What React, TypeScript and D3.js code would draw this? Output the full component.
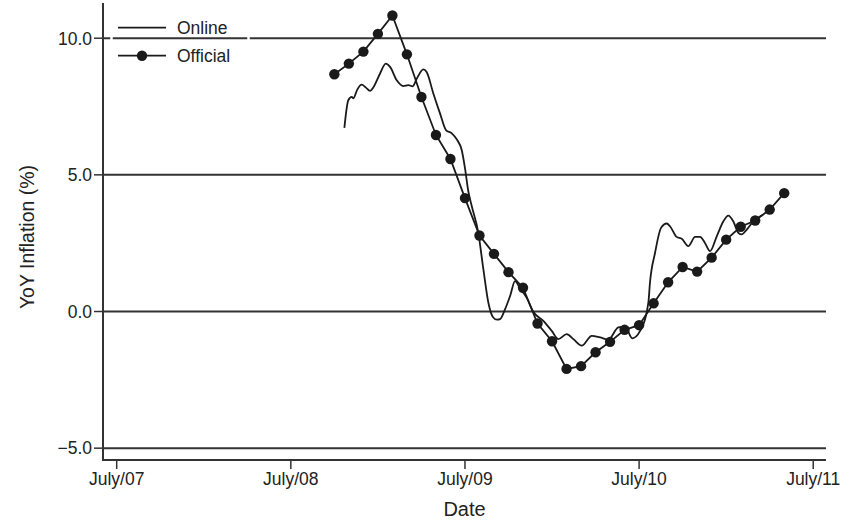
import React from "react";
import * as d3 from "d3";

// Months are counted from July 2007 (0 = July/07)
const tickMonths = [0, 12, 24, 36, 48];
const tickLabels = ["July/07", "July/08", "July/09", "July/10", "July/11"];
const yTicks = [-5, 0, 5, 10];
const yTickLabels = ["\u22125.0", "0.0", "5.0", "10.0"];

const officialMonths = [15, 16, 17, 18, 19, 20, 21, 22, 23, 24, 25, 26, 27, 28, 29, 30, 31, 32, 33, 34, 35, 36, 37, 38, 39, 40, 41, 42, 43, 44, 45, 46];
const officialValues = [8.68, 9.07, 9.51, 10.16, 10.83, 9.41, 7.85, 6.46, 5.58, 4.15, 2.78, 2.11, 1.44, 0.87, -0.44, -1.09, -2.1, -2.0, -1.49, -1.11, -0.67, -0.5, 0.3, 1.07, 1.63, 1.46, 1.97, 2.63, 3.1, 3.33, 3.73, 4.33];

const onlineMonths = [15.69, 15.96, 16.2, 16.31, 16.58, 16.88, 17.16, 17.46, 17.68, 18.15, 18.54, 18.84, 19.3, 19.75, 20.1, 20.4, 20.68, 21.13, 21.36, 21.82, 22.28, 22.69, 23.09, 23.43, 23.78, 24.0, 24.23, 24.47, 24.92, 25.27, 25.61, 25.95, 26.21, 26.42, 26.76, 27.11, 27.45, 27.79, 28.26, 28.71, 29.4, 29.98, 30.43, 31.01, 31.47, 32.05, 32.74, 33.31, 33.88, 34.57, 35.03, 35.53, 36.07, 36.64, 36.75, 37.1, 37.51, 37.9, 38.13, 38.59, 38.94, 39.39, 39.86, 40.2, 40.54, 40.89, 41.35, 41.81, 42.15, 42.49, 42.84, 43.07, 43.42, 43.87, 44.33, 44.54];
const onlineValues = [6.72, 7.73, 7.85, 7.8, 8.12, 8.3, 8.2, 8.07, 8.2, 8.71, 9.07, 8.95, 8.46, 8.25, 8.28, 8.24, 8.52, 8.86, 8.76, 7.98, 7.25, 6.64, 6.52, 6.3, 5.9, 5.25, 4.4, 3.85, 2.88, 1.54, 0.33, -0.22, -0.3, -0.28, 0.08, 0.57, 1.11, 0.85, 0.5, -0.01, -0.34, -0.71, -1.01, -0.83, -1.01, -1.25, -0.89, -0.95, -1.03, -0.58, -0.55, -0.98, -0.71, 0.33, 1.06, 2.15, 3.06, 3.22, 3.12, 2.73, 2.66, 2.39, 2.73, 2.73, 2.51, 2.21, 2.75, 3.3, 3.51, 3.3, 2.88, 2.82, 3.0, 3.3, 3.48, 3.54];

const W = 852;
const H = 523;
const left = 103, right = 826, top = 3, bottom = 460;

export default function App() {
  const x = d3.scaleLinear().domain([-0.944, 48.88]).range([left, right]);
  const y = d3.scaleLinear().domain([-5.433, 11.288]).range([bottom, top]);

  const official = officialMonths.map((m, i) => ({ m, v: officialValues[i] }));
  const online = onlineMonths.map((m, i) => ({ m, v: onlineValues[i] }));

  const lineGen = d3.line<{ m: number; v: number }>().x(d => x(d.m)).y(d => y(d.v));
  const onlinePath = d3.line<{ m: number; v: number }>().x(d => x(d.m)).y(d => y(d.v)).curve(d3.curveMonotoneX)(online) || "";
  const officialPath = lineGen(official) || "";

  const font = "'Liberation Sans', Arial, Helvetica, sans-serif";
  const ink = "#1a1a1a";

  return (
    <svg width={W} height={H} style={{ position: "absolute", left: 0, top: 0, background: "#fff" }} fontFamily={font}>
      <rect x={0} y={0} width={W} height={H} fill="#fff" />
      {yTicks.map(t => (
        <line key={"g" + t} x1={left} x2={right} y1={y(t)} y2={y(t)} stroke="#333" strokeWidth={2} />
      ))}
      {yTicks.map((t, i) => (
        <g key={"yt" + t}>
          <line x1={left - 9} x2={left} y1={y(t)} y2={y(t)} stroke="#333" strokeWidth={1.5} />
          <text x={left - 11} y={y(t)} dy="0.36em" textAnchor="end" fontSize={17.5} fill="#222">{yTickLabels[i]}</text>
        </g>
      ))}
      {tickMonths.map((t, i) => (
        <g key={"xt" + t}>
          <line x1={x(t)} x2={x(t)} y1={bottom} y2={bottom + 9} stroke="#333" strokeWidth={1.5} />
          <text x={x(t)} y={bottom + 25} textAnchor="middle" fontSize={17.5} fill="#222">{tickLabels[i]}</text>
        </g>
      ))}
      <line x1={left} x2={left} y1={top} y2={bottom + 1} stroke="#333" strokeWidth={2} />
      <line x1={left - 1} x2={right} y1={bottom} y2={bottom} stroke="#333" strokeWidth={2} />
      <text x={(left + right) / 2} y={516} textAnchor="middle" fontSize={20} fill="#222">Date</text>
      <text transform={`translate(34, 237) rotate(-90)`} textAnchor="middle" fontSize={19.5} fill="#222">YoY Inflation (%)</text>

      <path d={onlinePath} fill="none" stroke={ink} strokeWidth={1.8} />
      <path d={officialPath} fill="none" stroke={ink} strokeWidth={1.8} />
      {official.map((d, i) => (
        <circle key={"o" + i} cx={x(d.m)} cy={y(d.v)} r={5.2} fill={ink} />
      ))}

      <rect x={111.5} y={8} width={137} height={66} fill="none" stroke="#fff" strokeWidth={2.5} />
      <line x1={118} x2={166} y1={27.7} y2={27.7} stroke={ink} strokeWidth={1.8} />
      <text x={177} y={34} fontSize={17.5} fill="#222">Online</text>
      <line x1={118} x2={166} y1={55.7} y2={55.7} stroke={ink} strokeWidth={1.8} />
      <circle cx={142} cy={55.7} r={5.2} fill={ink} />
      <text x={177} y={62} fontSize={17.5} fill="#222">Official</text>
    </svg>
  );
}
